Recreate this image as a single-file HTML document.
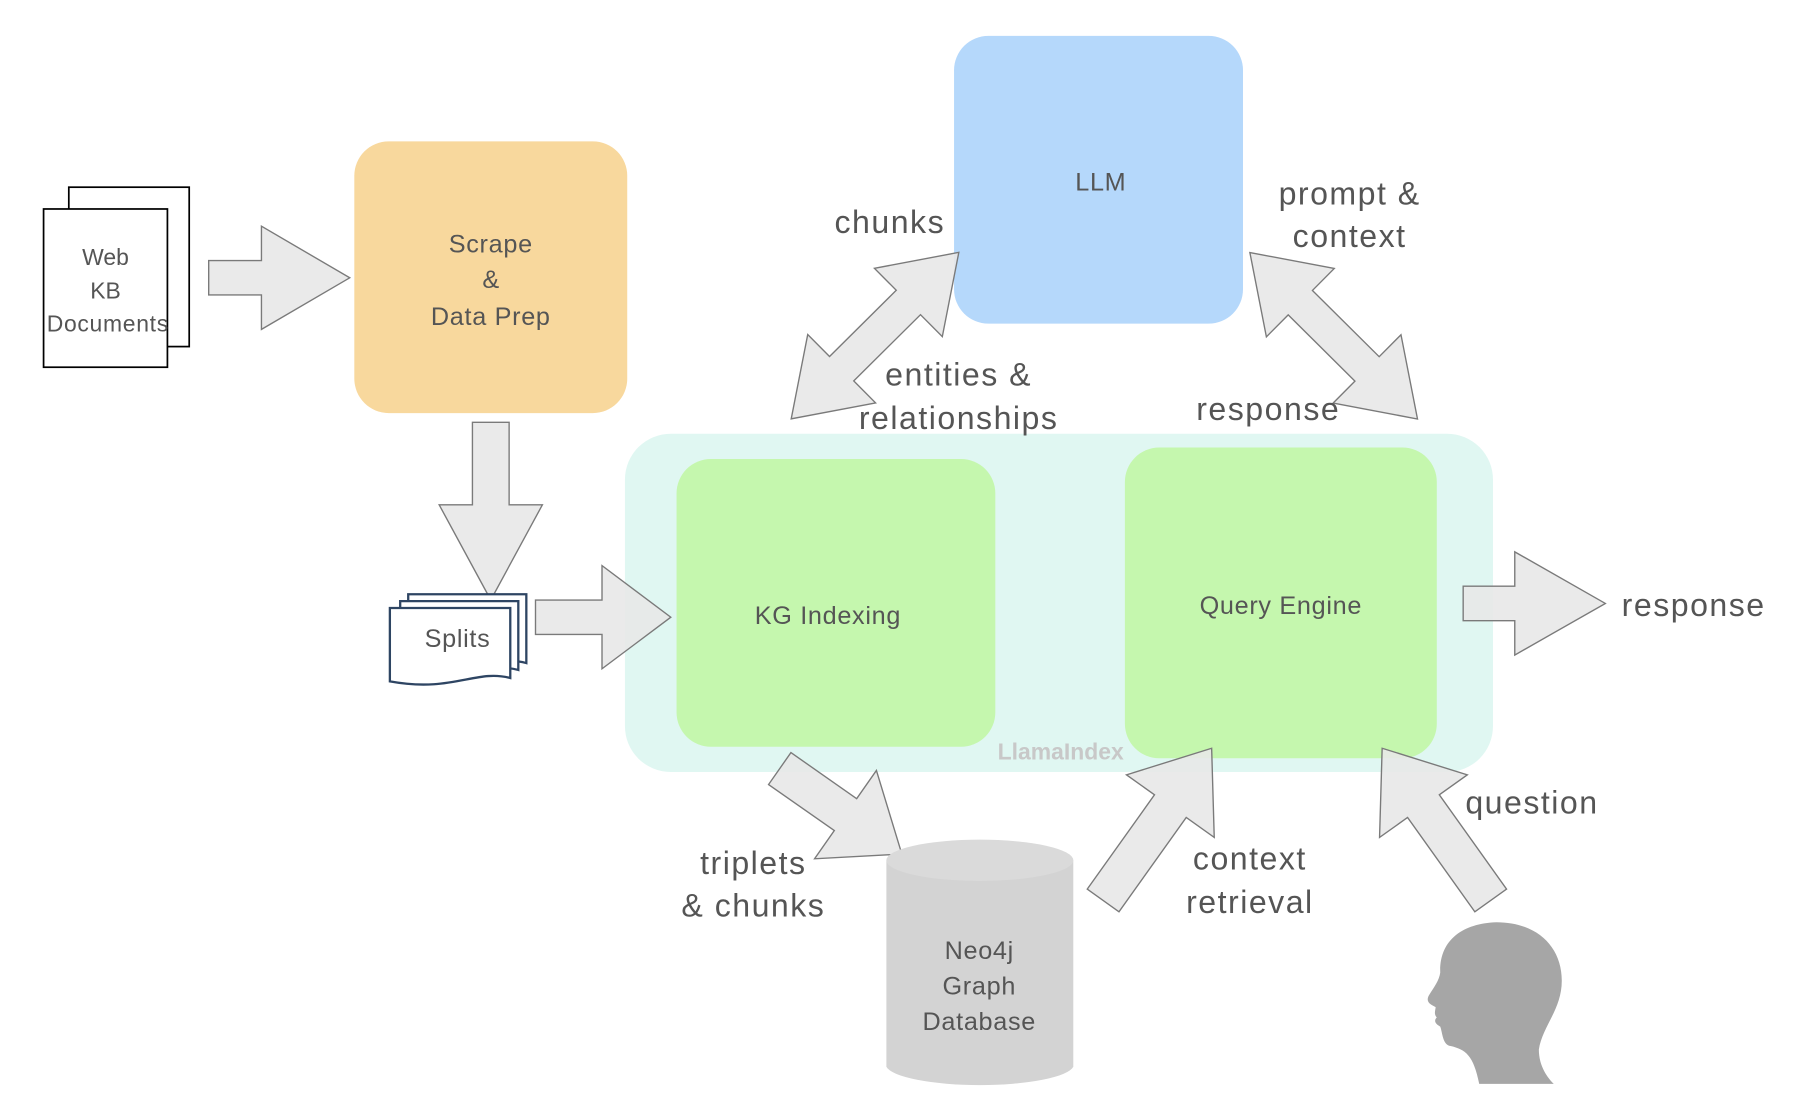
<!DOCTYPE html>
<html><head><meta charset="utf-8"><style>
html,body{margin:0;padding:0;background:#fff;}
svg{display:block;}
text{font-family:"Liberation Sans",sans-serif;fill:#555;text-anchor:middle;}
.s{letter-spacing:0.6px;}
.b text{letter-spacing:1.3px;}
</style></head><body>
<svg width="1798" height="1114" viewBox="0 0 1568 971" xmlns="http://www.w3.org/2000/svg">
<!-- LlamaIndex container -->
<rect x="545" y="378" width="757" height="295" rx="40" fill="#e0f7f2"/>
<text x="925" y="662" font-size="20" font-weight="bold" style="fill:#c8c8c8">LlamaIndex</text>
<!-- Documents -->
<rect x="60" y="163" width="105" height="139" fill="#fff" stroke="#000" stroke-width="1.5"/>
<rect x="38" y="182" width="108" height="138" fill="#fff" stroke="#000" stroke-width="1.5"/>
<text x="92" y="231" font-size="20">Web</text>
<text x="92" y="260" font-size="20">KB</text>
<text x="94" y="289" font-size="20" class="s">Documents</text>
<!-- Scrape -->
<rect x="309" y="123" width="238" height="237" rx="30" fill="#f8d89d"/>
<text x="428" y="220" font-size="22" class="s">Scrape</text>
<text x="428" y="251" font-size="22">&amp;</text>
<text x="428" y="283" font-size="22" class="s">Data Prep</text>
<!-- LLM -->
<rect x="832" y="31" width="252" height="251" rx="30" fill="#b5d8fb"/>
<text x="960" y="166" font-size="22" class="s">LLM</text>
<!-- KG Indexing -->
<rect x="590" y="400" width="278" height="251" rx="30" fill="#c5f7ae"/>
<text x="722" y="544" font-size="22" class="s">KG Indexing</text>
<!-- Query Engine -->
<rect x="981" y="390" width="272" height="271" rx="30" fill="#c5f7ae"/>
<text x="1117" y="535" font-size="22" class="s">Query Engine</text>

<g fill="#e8e8e8" fill-opacity="0.9" stroke="#7a7a7a" stroke-width="1.2">
<polygon points="182,227 228,227 228,197 305,242 228,287 228,257 182,257"/>
<polygon points="412,368 444,368 444,440 473,440 428,523 383,440 412,440"/>
<polygon points="467,523 525,523 525,493 585,538 525,583 525,553 467,553"/>
<polygon points="1276,511 1321,511 1321,481 1400,526 1321,571 1321,541 1276,541"/>
<polygon transform="translate(690,365) rotate(-44.8)" points="0,0 62,-42 62,-15 144,-15 144,-42 206,0 144,42 144,15 62,15 62,42"/>
<polygon transform="translate(1090,220) rotate(44.8)" points="0,0 62,-42 62,-15 144,-15 144,-42 206,0 144,42 144,15 62,15 62,42"/>
<polygon transform="translate(680,670) rotate(35)" points="0,-17 70,-17 70,-47 130,0 70,47 70,17 0,17"/>
<polygon transform="translate(962,785) rotate(-54.5)" points="0,-17 101,-17 101,-47 163,0 101,47 101,17 0,17"/>
<polygon transform="translate(1300,785) rotate(-125.5)" points="0,-17 101,-17 101,-47 163,0 101,47 101,17 0,17"/>
</g>

<!-- Splits icon -->
<g fill="#fff" stroke="#2e4563" stroke-width="2">
<path d="M356,518 H459 V578 C430,570 410,592 356,582 Z"/>
<path d="M349,524 H452 V584 C423,576 403,598 349,588 Z"/>
<path d="M340,530 H445 V591 C415,583 395,604 340,594 Z"/>
</g>
<text x="399" y="564" font-size="22" class="s">Splits</text>

<!-- Cylinder -->
<path d="M773,750 V930 A82,18 0 0 0 936,930 V750 Z" fill="#d3d3d3"/>
<ellipse cx="854.5" cy="750" rx="81.5" ry="18" fill="#dadada"/>
<text x="854" y="836" font-size="22" class="s">Neo4j</text>
<text x="854" y="867" font-size="22" class="s">Graph</text>
<text x="854" y="898" font-size="22" class="s">Database</text>

<!-- Head -->
<path d="M1290,945 C1285,920 1278,915 1265,912 C1258,911 1258,900 1256,895 C1252,893 1250,890 1253,887 C1250,884 1252,880 1252,878 C1248,876 1243,874 1246,868 C1251,860 1255,855 1256,848 C1255,820 1275,805 1305,804 C1340,804 1362,825 1362,855 C1362,880 1345,895 1342,915 C1342,930 1350,940 1355,945 Z" fill="#a6a6a6"/>

<!-- labels -->
<g font-size="28" class="b">
<text x="776" y="203">chunks</text>
<text x="1177" y="178">prompt &amp;</text>
<text x="1177" y="215">context</text>
<text x="836" y="336">entities &amp;</text>
<text x="836" y="374">relationships</text>
<text x="1106" y="366">response</text>
<text x="1477" y="537">response</text>
<text x="657" y="762">triplets</text>
<text x="657" y="799">&amp; chunks</text>
<text x="1090" y="758">context</text>
<text x="1090" y="796">retrieval</text>
<text x="1336" y="709">question</text>
</g>
</svg>
</body></html>
